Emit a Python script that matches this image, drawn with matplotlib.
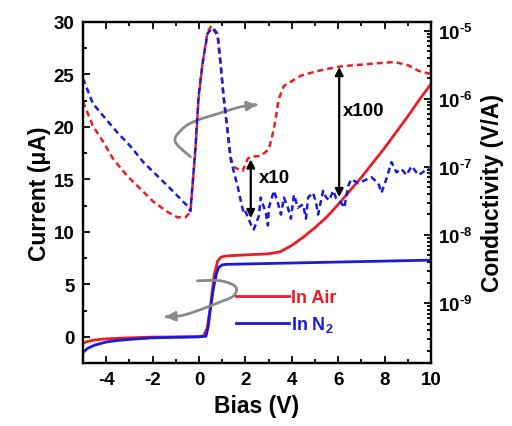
import numpy as np
import matplotlib
matplotlib.use('Agg')
import matplotlib.pyplot as plt
from matplotlib.path import Path
from matplotlib.patches import FancyArrowPatch
from matplotlib.ticker import MultipleLocator, FixedLocator, LogLocator, NullFormatter

plt.rcParams['font.family'] = ['Liberation Sans', 'DejaVu Sans']
plt.rcParams['font.weight'] = 'bold'
plt.rcParams['axes.unicode_minus'] = False
plt.rcParams['mathtext.fontset'] = 'custom'
plt.rcParams['mathtext.rm'] = 'Liberation Sans:bold'
plt.rcParams['mathtext.bf'] = 'Liberation Sans:bold'
plt.rcParams['mathtext.default'] = 'bf'

RED = '#ec1c24'
BLUE = '#1a1ad8'
GRAY = '#8a8a8a'

# corrente (uA) - linhas solidas
air_x = [-5, -4.8, -4.5, -4, -3, -2, 0, 0.2, 0.35, 0.5, 0.65, 0.8, 0.95, 1.2, 2, 3, 3.5,
         4, 4.5, 5, 5.5, 6, 6.5, 7, 7.5, 8, 8.5, 9, 9.5, 10]
air_i = [-0.6, -0.45, -0.3, -0.2, -0.1, -0.03, 0.0, 0.1, 0.8, 3.0, 5.8, 7.2, 7.6, 7.7, 7.8, 7.9, 8.1,
         8.7, 9.5, 10.4, 11.4, 12.6, 13.9, 15.2, 16.6, 18.0, 19.5, 21.0, 22.6, 24.1]
n2_x = [-5, -4.8, -4.5, -4, -3.5, -3, -2, -1, 0, 0.3, 0.4, 0.5, 0.62, 0.75, 0.85, 1.0, 1.2, 10]
n2_i = [-1.5, -1.1, -0.8, -0.5, -0.35, -0.25, -0.1, -0.05, 0.0, 0.05, 1.0, 2.8, 4.6, 6.0, 6.6, 6.85, 6.9, 7.3]

# condutividade (log10 V/A) - linhas tracejadas
air_cx = [-5.00, -4.57, -4.13, -3.70, -3.10, -2.53, -1.97, -1.36, -0.93, -0.58, -0.37, -0.15, -0.02,
          0.15, 0.37, 0.54, 0.80, 0.93, 1.06, 1.23, 1.36, 1.49, 1.67, 1.88, 2.10, 2.23, 2.66, 3.01,
          3.23, 3.44, 3.66, 4.39, 5.13, 5.99, 6.56, 7.29, 7.99, 8.42, 9.03, 9.46, 9.89, 10.0]
air_lg = [-6.04, -6.40, -6.63, -6.88, -7.13, -7.32, -7.51, -7.66, -7.74, -7.74, -7.66, -6.74, -6.00,
          -5.49, -5.01, -4.93, -5.04, -5.49, -5.97, -6.47, -6.85, -7.00, -7.03, -7.06, -6.88, -6.85,
          -6.84, -6.74, -6.44, -6.00, -5.81, -5.66, -5.59, -5.53, -5.51, -5.49, -5.47, -5.46, -5.51,
          -5.59, -5.63, -5.59]
n2_cx = [-5.00, -4.57, -4.13, -3.53, -2.97, -2.40, -1.80, -1.23, -0.80, -0.45, -0.37, -0.15, -0.02,
         0.15, 0.37, 0.58, 0.80, 0.93, 1.06, 1.23, 1.36, 1.49, 1.67, 1.80, 1.93, 2.01, 2.23, 2.36,
         2.58, 2.66, 2.88, 2.97, 3.01, 3.23, 3.40, 3.53, 3.66, 3.83, 3.96, 4.09, 4.26, 4.48, 4.61,
         4.70, 4.91, 5.04, 5.13, 5.35, 5.48, 5.61, 5.78, 5.91, 6.13, 6.26, 6.43, 6.56, 6.86, 7.12,
         7.42, 7.73, 7.86, 8.07, 8.29, 8.51, 8.72, 8.94, 9.16, 9.46, 9.72, 9.94]
n2_lg = [-5.70, -6.07, -6.25, -6.49, -6.69, -6.93, -7.13, -7.32, -7.47, -7.59, -7.65, -6.71, -5.97,
         -5.49, -5.04, -4.96, -5.07, -5.49, -5.97, -6.47, -6.88, -7.06, -7.29, -7.50, -7.69, -7.66,
         -7.84, -7.92, -7.72, -7.45, -7.68, -7.86, -7.60, -7.35, -7.53, -7.70, -7.45, -7.60, -7.76,
         -7.41, -7.60, -7.55, -7.76, -7.45, -7.38, -7.52, -7.70, -7.35, -7.45, -7.49, -7.35, -7.46,
         -7.53, -7.60, -7.28, -7.18, -7.24, -7.20, -7.15, -7.24, -7.38, -7.18, -6.93, -7.08, -7.03,
         -7.12, -6.99, -7.12, -7.06, -7.00]

# setas cinzas (curvas) em coordenadas do eixo esquerdo
up_arrow_x = [-0.37, -1.02, -0.80, -0.24, 0.80, 1.80, 2.49]
up_arrow_y = [17.14, 18.57, 19.62, 20.48, 21.24, 21.90, 22.10]
lo_arrow_x = [-0.07, 0.93, 1.58, 1.49, 0.93, -0.07, -0.80, -1.45]
lo_arrow_y = [5.33, 5.33, 4.76, 3.90, 3.33, 2.48, 2.00, 1.90]

fig = plt.figure(figsize=(5.12, 4.27), dpi=100)
ax = fig.add_axes([0.162, 0.1475, 0.680, 0.799])
ax2 = ax.twinx()

ax.plot(air_x, air_i, color=RED, lw=2.0, label='In Air', zorder=3)
ax.plot(n2_x, n2_i, color=BLUE, lw=2.0, label='In N$_2$', zorder=3)

ax2.plot(air_cx, 10 ** np.array(air_lg), color=RED, lw=1.8, ls=(0, (2.4, 1.6)))
ax2.plot(n2_cx, 10 ** np.array(n2_lg), color=BLUE, lw=1.8, ls=(0, (2.4, 1.6)))
ax2.set_yscale('log')
ax2.set_ylim(10 ** -9.88, 10 ** -4.87)

ax.set_xlim(-5, 10)
ax.set_ylim(-2.5, 30)
ax.xaxis.set_major_locator(MultipleLocator(2))
ax.xaxis.set_minor_locator(MultipleLocator(1))
ax.yaxis.set_major_locator(MultipleLocator(5))
ax.yaxis.set_minor_locator(MultipleLocator(2.5))
ax.set_xticks([-4, -2, 0, 2, 4, 6, 8, 10])
ax.tick_params(which='both', direction='in', top=True, width=1.3, labelsize=13.5, pad=6)
ax.tick_params(which='major', length=5)
ax.tick_params(which='minor', length=3)

ax2.yaxis.set_major_locator(FixedLocator([1e-9, 1e-8, 1e-7, 1e-6, 1e-5]))
ax2.yaxis.set_minor_locator(LogLocator(base=10, subs=np.arange(2, 10)))
ax2.yaxis.set_minor_formatter(NullFormatter())
ax2.set_yticklabels([r'10$^{\text{-}9}$', r'10$^{\text{-}8}$', r'10$^{\text{-}7}$',
                     r'10$^{\text{-}6}$', r'10$^{\text{-}5}$'])
ax2.tick_params(which='both', direction='in', width=1.3, labelsize=13.5, pad=5)
ax2.tick_params(which='major', length=5)
ax2.tick_params(which='minor', length=3)

for a in (ax, ax2):
    for s in a.spines.values():
        s.set_linewidth(1.6)

ax.set_xlabel('Bias (V)', fontsize=16.5, fontweight='bold', labelpad=4)
ax.set_ylabel('Current (\u03bcA)', fontsize=16.5, fontweight='bold', labelpad=2)
ax2.set_ylabel('Conductivity (V/A)', fontsize=16.5, fontweight='bold', labelpad=6)

# setas pretas duplas
ax.annotate('', xy=(2.23, 16.9), xytext=(2.23, 11.3),
            arrowprops=dict(arrowstyle='<|-|>', color='black', lw=1.6, mutation_scale=12,
                            shrinkA=0, shrinkB=0))
ax.annotate('', xy=(6.04, 25.7), xytext=(6.04, 13.3),
            arrowprops=dict(arrowstyle='<|-|>', color='black', lw=1.6, mutation_scale=12,
                            shrinkA=0, shrinkB=0))
ax.text(2.58, 15.2, 'x10', fontsize=13.5, fontweight='bold', va='center', ha='left')
ax.text(6.21, 21.6, 'x100', fontsize=13.5, fontweight='bold', va='center', ha='left')


# setas cinzas curvas (suavizadas com catmull-rom)
def curved_arrow(xs, ys):
    p = np.column_stack([xs, ys])
    p = np.vstack([p[0], p, p[-1]])
    pts = []
    t = np.linspace(0, 1, 12, endpoint=False)[:, None]
    for i in range(1, len(p) - 2):
        p0, p1, p2, p3 = p[i - 1], p[i], p[i + 1], p[i + 2]
        pts.append(0.5 * (2 * p1 + (-p0 + p2) * t + (2 * p0 - 5 * p1 + 4 * p2 - p3) * t ** 2
                          + (-p0 + 3 * p1 - 3 * p2 + p3) * t ** 3))
    pts.append(p[-2][None, :])
    verts = np.vstack(pts)
    codes = [Path.MOVETO] + [Path.LINETO] * (len(verts) - 1)
    arr = FancyArrowPatch(path=Path(verts, codes), arrowstyle='-|>', mutation_scale=14,
                          color=GRAY, lw=2.0, zorder=4)
    ax.add_patch(arr)


curved_arrow(up_arrow_x, up_arrow_y)
curved_arrow(lo_arrow_x, lo_arrow_y)

leg = ax.legend(loc='center left', bbox_to_anchor=(0.415, 0.15), frameon=False,
                fontsize=13, handlelength=2.9, handletextpad=0.1, borderpad=0,
                labelspacing=0.45, labelcolor='linecolor')

fig.savefig('out.png', dpi=100)
